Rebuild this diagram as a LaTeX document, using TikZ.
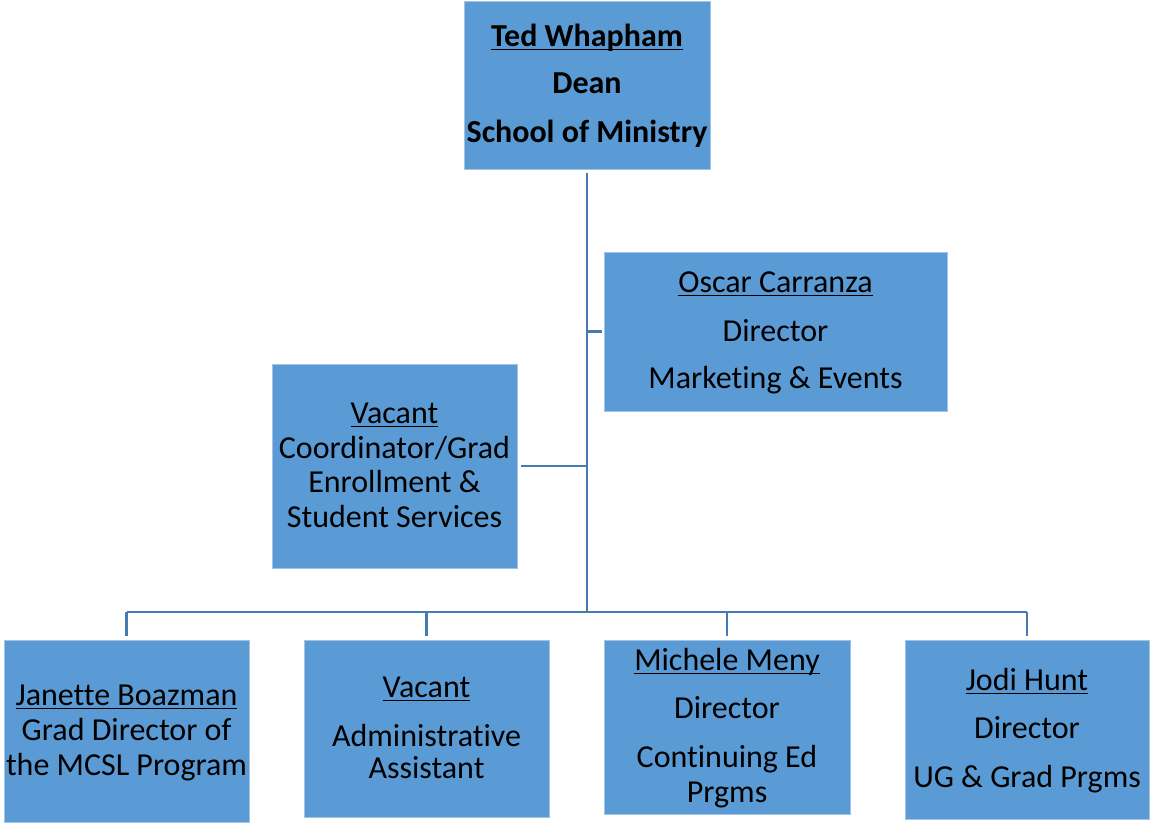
\documentclass[tikz,border=0pt]{standalone}
\usepackage{fontspec}
\setmainfont{Carlito}[Ligatures={NoCommon,NoContextual},Contextuals=NoAlternate]
\definecolor{boxfill}{RGB}{91,155,213}
\definecolor{boxedge}{RGB}{160,196,230}
\definecolor{conncol}{RGB}{70,122,178}
\newcommand\nameul[1]{\setbox0\hbox{#1}\rlap{\rule[-4.4pt]{\wd0}{1.8pt}}\box0}
\tikzset{
  box/.style={rectangle, fill=boxfill, draw=boxedge, line width=1pt, inner sep=0pt},
  txt/.style={anchor=base, inner sep=0pt, font=\fontsize{32}{37}\selectfont},
  btxt/.style={txt, font=\fontsize{32}{37}\selectfont\bfseries},
  conn/.style={draw=conncol, line width=2.8pt}
}
\begin{document}
\begin{tikzpicture}[x=1pt,y=-1pt]
\useasboundingbox (0,0) rectangle (1150,823);
% boxes
\node[box, minimum width=246pt, minimum height=168pt] (dean) at (587,85) {};
\node[box, minimum width=343pt, minimum height=159pt] (oscar) at (775.5,331.5) {};
\node[box, minimum width=245pt, minimum height=204pt] (vac1) at (394.5,466) {};
\node[box, minimum width=245pt, minimum height=182pt] (jan) at (126.5,731) {};
\node[box, minimum width=245pt, minimum height=177pt] (vac2) at (426.5,728.5) {};
\node[box, minimum width=246pt, minimum height=174pt] (mich) at (727,727) {};
\node[box, minimum width=244pt, minimum height=179pt] (jodi) at (1027,729.5) {};
% texts
\node[btxt] (dean1) at (587,46) {\nameul{Ted Whapham}};
\node[btxt] (dean2) at (587,93) {Dean};
\node[btxt] (dean3) at (587,142) {School of Ministry};
\node[txt] (oscar1) at (775.5,292) {\nameul{Oscar Carranza}};
\node[txt] (oscar2) at (775.5,341) {Director};
\node[txt] (oscar3) at (775.5,388) {Marketing \& Events};
\node[txt] (vac11) at (394.5,423) {\nameul{Vacant}};
\node[txt] (vac12) at (394.5,458) {Coordinator/Grad};
\node[txt] (vac13) at (394.5,492) {Enrollment \&};
\node[txt] (vac14) at (394.5,527) {Student Services};
\node[txt] (jan1) at (126.5,705) {\nameul{Janette Boazman}};
\node[txt] (jan2) at (126.5,740) {Grad Director of};
\node[txt] (jan3) at (126.5,775) {the MCSL Program};
\node[txt] (vac21) at (426.5,697) {\nameul{Vacant}};
\node[txt] (vac22) at (426.5,746) {Administrative};
\node[txt] (vac23) at (426.5,778) {Assistant};
\node[txt] (mich1) at (727,670) {\nameul{Michele Meny}};
\node[txt] (mich2) at (727,718) {Director};
\node[txt] (mich3) at (727,767) {Continuing Ed};
\node[txt] (mich4) at (727,802) {Prgms};
\node[txt] (jodi1) at (1027,690) {\nameul{Jodi Hunt}};
\node[txt] (jodi2) at (1027,738) {Director};
\node[txt] (jodi3) at (1027,787) {UG \& Grad Prgms};
% connectors
\coordinate (bus) at (587,612);
\draw[conn, shorten <=3pt] (dean.south) -- (bus);
\draw[conn, shorten <=2pt] (oscar.west) -- (oscar.west -| dean.south);
\draw[conn, shorten <=3pt] (vac1.east) -- (vac1.east -| dean.south);
\draw[conn] (jan.north |- bus) -- (jodi.north |- bus);
\draw[conn, shorten >=4pt] (jan.north |- bus) -- (jan.north);
\draw[conn, shorten >=4pt] (vac2.north |- bus) -- (vac2.north);
\draw[conn, shorten >=4pt] (mich.north |- bus) -- (mich.north);
\draw[conn, shorten >=4pt] (jodi.north |- bus) -- (jodi.north);
\end{tikzpicture}
\end{document}
